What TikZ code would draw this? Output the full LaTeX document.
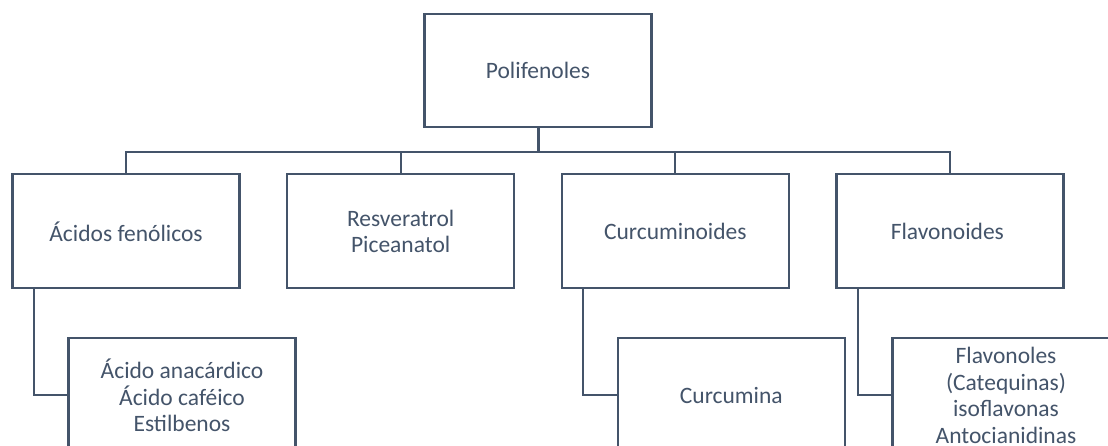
\documentclass[tikz,border=0pt]{standalone}
\usepackage{fontspec}
\setmainfont{Carlito}
\usetikzlibrary{positioning,calc}
\definecolor{pizarra}{HTML}{44546A}

\begin{document}
\begin{tikzpicture}[x=1pt,y=-1pt,every node/.style={font=\fontsize{23.5}{26.5}\selectfont,text=pizarra}]

\tikzset{
  caja/.style={draw=pizarra,line width=2.3pt,fill=white,align=center,inner sep=0pt,
    minimum width=227pt,minimum height=114pt},
  linea/.style={draw=pizarra,line width=2.3pt}
}
\useasboundingbox (0,0) rectangle (1108,445);

\def\ramas{
{Ácidos fenólicos},
{Resveratrol\\Piceanatol},
{Curcuminoides},
{Flavonoides}
 }
\def\paso{274.67}
\def\yBus{151.7}

\node[caja,minimum height=113pt] (raiz) at (538,70.5) {Polifenoles};
\draw[linea,line width=3pt] (raiz.south) -- (raiz.south |- 0,\yBus);

%% second row and the bus
\foreach \n [count=\ni] in \ramas
{
\pgfmathsetmacro\cx{126+(\ni-1)*\paso}
\node[caja] (rama\ni) at (\cx,231.3) {\n};
\draw[linea] (raiz.south |- 0,\yBus) -| (rama\ni.north);
}

%% third row, hanging from the left side
\foreach \r/\t [count=\ni] in {1/{Ácido anacárdico\\Ácido caféico\\Estilbenos},
  3/{Curcumina},
  4/{Flavonoles\\(Catequinas)\\isoflavonas\\Antocianidinas}}
{
\node[caja,below=47.7pt of rama\r,xshift=56pt] (hoja\ni) {\t};
\draw[linea] ([xshift=22.5pt]rama\r.south west) |- (hoja\ni.west);
}
\end{tikzpicture}
\end{document}
